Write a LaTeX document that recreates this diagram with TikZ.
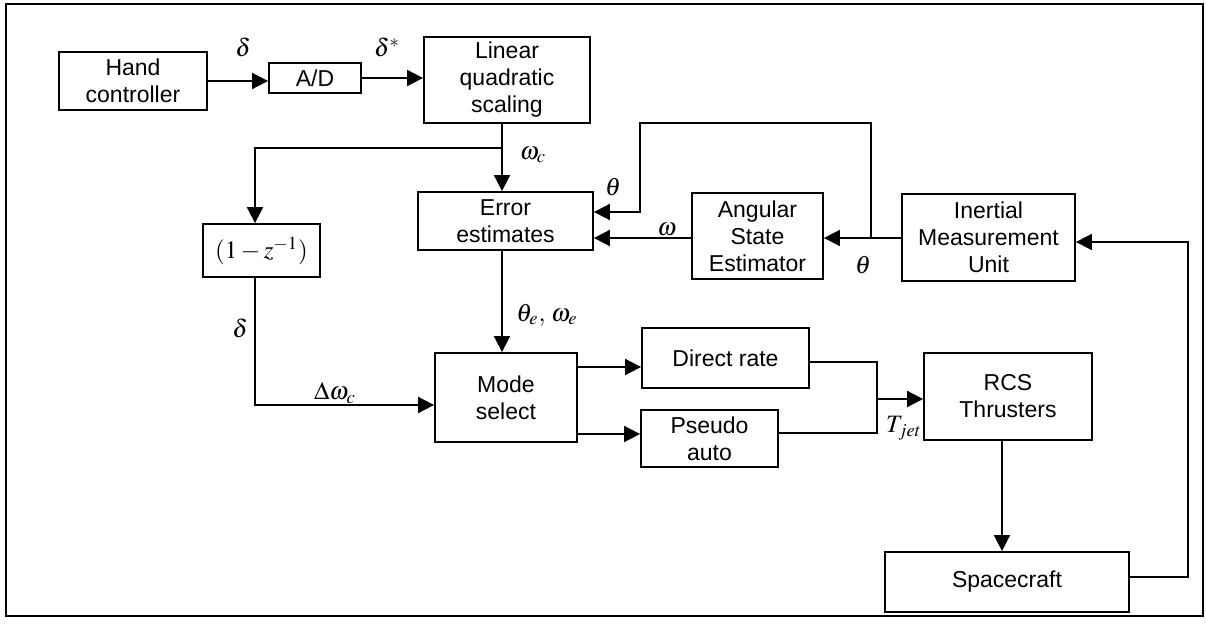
\documentclass[tikz,border=0pt]{standalone}
\usepackage{mathptmx}
\usepackage[no-math]{fontspec}
\setmainfont{Liberation Sans}
\usetikzlibrary{arrows.meta}
\newcommand{\boxfont}{\fontsize{11.5}{13.5}\selectfont}
\newcommand{\labfont}{\fontsize{12.5}{14}\selectfont}
\tikzset{
  blk/.style={draw, line width=0.9pt, align=center, inner sep=1pt, font=\boxfont},
  arr/.style={line width=0.9pt, -{Triangle[length=8pt,width=8pt]}},
  ln/.style={line width=0.9pt},
  lab/.style={font=\labfont, inner sep=0pt}
}
\begin{document}
\begin{tikzpicture}[x=0.5pt,y=-0.5pt]
\useasboundingbox (0,0) rectangle (1206,625);
\draw[line width=0.9pt] (6,4) rectangle (1203,616);
% blocks
\node[blk, minimum width=74pt, minimum height=29pt] (HC) at (133,81) {Hand\\controller};
\node[blk, minimum width=46pt, minimum height=15pt] (AD) at (315,78) {A/D};
\node[blk, minimum width=83pt, minimum height=43pt] (LQS) at (507,80) {Linear\\quadratic\\scaling};
\node[blk, minimum width=87.5pt, minimum height=29pt] (EE) at (505.5,221) {Error\\estimates};
\node[blk, minimum width=65.5pt, minimum height=43pt] (ASE) at (757.5,236) {Angular\\State\\Estimator};
\node[blk, minimum width=86.5pt, minimum height=43.5pt] (IMU) at (988.5,237.5) {Inertial\\Measurement\\Unit};
\node[blk, minimum width=58.5pt, minimum height=26.5pt, font=\labfont] (ZZ) at (261.5,250.5) {$(1-z^{-1})$};
\node[blk, minimum width=71pt, minimum height=44.5pt] (MS) at (506,397.5) {Mode\\select};
\node[blk, minimum width=83.5pt, minimum height=30pt] (DR) at (725.5,358) {Direct rate};
\node[blk, minimum width=68.5pt, minimum height=28.5pt] (PA) at (709.5,438.5) {Pseudo\\auto};
\node[blk, minimum width=84pt, minimum height=43.5pt] (RCS) at (1008,396.5) {RCS\\Thrusters};
\node[blk, minimum width=122pt, minimum height=30pt] (SC) at (1007,582) {Spacecraft};
% helper coordinates
\coordinate (vx) at (502,0);
\coordinate (vz) at (255,0);
\coordinate (j1) at (502,148);
\coordinate (yd) at (0,405);
\coordinate (y1) at (0,367);
\coordinate (y2) at (0,434);
\coordinate (y3) at (0,362);
\coordinate (y4) at (0,433);
\coordinate (jx) at (877,399);
\coordinate (vr) at (1002,0);
\coordinate (fb) at (1188,577);
\coordinate (yi) at (0,242);
\coordinate (y5) at (0,238);
\coordinate (jt) at (871,238);
\coordinate (tp) at (640,123);
\coordinate (yt) at (0,212);
% connectors
\draw[arr] (HC.east) -- (HC.east -| AD.west);
\draw[arr] (AD.east) -- (AD.east -| LQS.west);
\draw[arr] (LQS.south -| vx) -- (EE.north -| vx);
\draw[arr] (j1) -| (ZZ.north -| vz);
\draw[arr] (EE.south -| vx) -- (MS.north -| vx);
\draw[arr] (ZZ.south -| vz) |- (MS.west |- yd);
\draw[arr] (MS.east |- y1) -- (DR.west |- y1);
\draw[arr] (MS.east |- y2) -- (PA.west |- y2);
\draw[ln] (DR.east |- y3) -| (jx);
\draw[ln] (PA.east |- y4) -| (jx);
\draw[arr] (jx) -- (RCS.west |- jx);
\draw[arr] (RCS.south -| vr) -- (SC.north -| vr);
\draw[arr] (SC.east |- fb) -- (fb) |- (IMU.east |- yi);
\draw[arr] (IMU.west |- y5) -- (ASE.east |- y5);
\draw[arr] (ASE.west |- y5) -- (EE.east |- y5);
\draw[arr] (jt) |- (tp) |- (EE.east |- yt);
% labels
\node[lab] (l1) at (243,47) {$\delta$};
\node[lab] (l2) at (387,47) {$\delta^{*}$};
\node[lab] (l3) at (533,155) {$\omega_c$};
\node[lab] (l4) at (613,187) {$\theta$};
\node[lab] (l5) at (667,230) {$\omega$};
\node[lab] (l6) at (863,265) {$\theta$};
\node[lab] (l7) at (547,315) {$\theta_e,\,\omega_e$};
\node[lab] (l8) at (240,328) {$\delta$};
\node[lab] (l9) at (335,393) {$\Delta\omega_c$};
\node[lab] (l10) at (904,428) {$T_{jet}$};
\end{tikzpicture}
\end{document}
